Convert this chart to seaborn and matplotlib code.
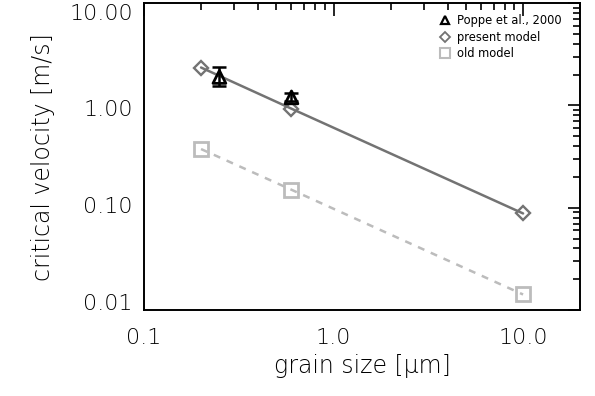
import matplotlib
matplotlib.use("Agg")
import matplotlib.pyplot as plt
import matplotlib.transforms as mtransforms
import seaborn as sns
import numpy as np
import pandas as pd
from matplotlib.lines import Line2D
from matplotlib.ticker import FixedLocator, FixedFormatter, LogLocator, NullFormatter

# data
grain_model = [0.2, 0.6, 10.0]
present_model = [2.35, 0.93, 0.088]
old_model = [0.375, 0.15, 0.0142]

grain_poppe = [0.25, 0.6]
poppe_v = [1.9, 1.2]
poppe_lo = [1.55, 1.1]
poppe_hi = [2.4, 1.32]

xticks = [0.1, 1.0, 10.0]
xticklabels = ["0.1", "1.0", "10.0"]
yticks = [0.01, 0.1, 1.0, 10.0]
yticklabels = ["0.01", "0.10", "1.00", "10.00"]
legend_labels = ["Poppe et al., 2000", "present model", "old model"]

sns.set_theme(style="white")
plt.rcParams['font.family'] = ['DejaVu Sans']
plt.rcParams['font.weight'] = 'light'
plt.rcParams['text.color'] = 'black'
plt.rcParams['axes.labelcolor'] = 'black'
plt.rcParams['xtick.color'] = 'black'
plt.rcParams['ytick.color'] = 'black'
plt.rcParams['axes.labelweight'] = 'light'

fig = plt.figure(figsize=(5.95, 3.96), dpi=100)
ax = fig.add_axes([0.242, 0.217, 0.733, 0.775])

df_model = pd.DataFrame({"size": grain_model, "present": present_model, "old": old_model})
df_poppe = pd.DataFrame({"size": grain_poppe, "v": poppe_v})

dark = "#737373"
light = "#bcbcbc"

sns.lineplot(data=df_model, x="size", y="present", ax=ax, color=dark, lw=1.8,
             marker="D", markersize=7.5, markerfacecolor="none", markeredgecolor=dark,
             markeredgewidth=1.7)
sns.lineplot(data=df_model, x="size", y="old", ax=ax, color=light, lw=1.8,
             linestyle=(0, (2.8, 2.8)), marker="s", markersize=9.5, markerfacecolor="none",
             markeredgecolor=light, markeredgewidth=2.0)

yerr = np.array([np.array(poppe_v) - np.array(poppe_lo), np.array(poppe_hi) - np.array(poppe_v)])
ax.errorbar(grain_poppe, poppe_v, yerr=yerr, fmt="none", ecolor="black", elinewidth=1.8,
            capsize=5, capthick=1.8, zorder=4)
sns.scatterplot(data=df_poppe, x="size", y="v", ax=ax, marker="^", s=85,
                facecolor="none", edgecolor="black", linewidth=2.0, zorder=5)

ax.set_xscale("log")
ax.set_yscale("log")
ax.set_xlim(0.1, 20)
ax.set_ylim(0.01, 10)

ax.xaxis.set_major_locator(FixedLocator(xticks))
ax.xaxis.set_major_formatter(FixedFormatter(xticklabels))
ax.yaxis.set_major_locator(FixedLocator(yticks))
ax.yaxis.set_major_formatter(FixedFormatter(yticklabels))
ax.xaxis.set_minor_locator(LogLocator(base=10, subs=np.arange(2, 10)))
ax.yaxis.set_minor_locator(LogLocator(base=10, subs=np.arange(2, 10)))
ax.xaxis.set_minor_formatter(NullFormatter())
ax.yaxis.set_minor_formatter(NullFormatter())

ax.tick_params(which="both", direction="in", top=True, right=True, colors="black",
               labelcolor="black", width=1.2)
ax.tick_params(which="major", length=9, labelsize=16)
ax.tick_params(axis="x", which="major", pad=13)
ax.tick_params(axis="y", which="major", pad=8)
ax.tick_params(which="minor", length=5)
for s in ax.spines.values():
    s.set_color("black")
    s.set_linewidth(1.4)

ax.set_xlabel("grain size [μm]", fontsize=17, labelpad=4, color="black",
              fontweight="light")
ax.set_ylabel("critical velocity [m/s]", fontsize=17, labelpad=10, color="black",
              fontweight="light")

handles = [
    Line2D([], [], marker="^", linestyle="none", markerfacecolor="none",
           markeredgecolor="black", markeredgewidth=1.6, markersize=6),
    Line2D([], [], marker="D", linestyle="none", markerfacecolor="none",
           markeredgecolor=dark, markeredgewidth=1.3, markersize=5),
    Line2D([], [], marker="s", linestyle="none", markerfacecolor="none",
           markeredgecolor=light, markeredgewidth=1.5, markersize=6.5),
]
leg = ax.legend(handles, legend_labels, loc="upper left", frameon=False,
                prop={"size": 8.3, "weight": "normal"},
                handlelength=1.0, handletextpad=0.6, labelspacing=0.32, borderpad=0.3,
                bbox_to_anchor=(0.655, 0.995))
for t in leg.get_texts():
    t.set_color("black")

# IDL-like label placement: top label hangs below its tick, bottom one sits above
fig.canvas.draw()
ylabs = ax.get_yticklabels()
offsets_px = [8.5, 3.0, -3.0, -8.5]  # from bottom label to top label (positive = up)
for lab, off in zip(ylabs, offsets_px):
    lab.set_transform(lab.get_transform() +
                      mtransforms.ScaledTranslation(0, off / 100.0, fig.dpi_scale_trans))

fig.savefig("out.png", dpi=100)
